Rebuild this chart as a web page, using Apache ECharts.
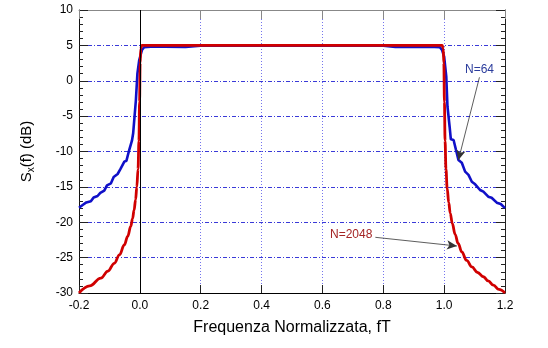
<!DOCTYPE html>
<html>
<head>
<meta charset="utf-8">
<script src="https://cdn.jsdelivr.net/npm/echarts@6/dist/echarts.min.js"></script>
<style>html,body{margin:0;padding:0;background:#fff}#c{width:548px;height:348px}</style>
</head>
<body>
<div id="c"></div>
<script>
// N=64 (blue) periodogram
var blueX = [-0.2, -0.188, -0.176, -0.161, -0.152, -0.139, -0.130, -0.117, -0.108, -0.095, -0.086, -0.073, -0.064, -0.051, -0.044, -0.035, -0.026, -0.022, -0.013, -0.008, -0.002, 0.007, 0.014, 0.036, 0.08, 0.15, 0.2, 0.5, 0.8, 0.84, 0.95, 0.986, 0.993, 1.0, 1.007, 1.011, 1.018, 1.022, 1.031, 1.039, 1.047, 1.058, 1.069, 1.080, 1.091, 1.102, 1.118, 1.129, 1.145, 1.156, 1.173, 1.186, 1.2];
var blueY = [-17.94, -17.56, -17.2, -17.04, -16.5, -16.29, -15.85, -15.53, -14.78, -14.5, -13.6, -13.18, -12.5, -11.44, -11.3, -9.79, -8.47, -7.43, -2.72, 1.05, 2.93, 4.35, 4.73, 4.81, 4.8, 4.78, 4.95, 4.95, 4.95, 4.78, 4.8, 4.73, 4.35, 3.4, 0.57, -3.67, -6.5, -8.28, -8.37, -9.79, -11.2, -11.58, -12.85, -13.3, -14.27, -14.64, -15.44, -15.68, -16.38, -16.53, -17.23, -17.42, -18.0];
// N=2048 (red) periodogram
var redX = [-0.2, -0.165, -0.128, -0.105, -0.084, -0.067, -0.051, -0.040, -0.030, -0.024, -0.019, -0.014, -0.010, -0.006, -0.003, -0.001, 0.001, 0.003, 0.006, 0.5, 0.994, 0.997, 0.999, 1.001, 1.003, 1.006, 1.010, 1.015, 1.020, 1.027, 1.036, 1.046, 1.058, 1.074, 1.091, 1.11, 1.129, 1.145, 1.162, 1.18, 1.2];
var redY = [-30.0, -29.0, -27.9, -26.9, -25.8, -24.6, -23.2, -22.0, -20.6, -19.5, -18.3, -16.8, -15.0, -12.5, -8.5, -3.0, 2.5, 4.5, 5.0, 5.0, 5.0, 4.5, 2.5, -3.0, -8.5, -12.5, -15.2, -17.2, -18.7, -20.2, -21.7, -23.0, -24.2, -25.4, -26.3, -27.1, -27.7, -28.3, -28.9, -29.5, -30.0];
var xTicks = [-0.2, 0.0, 0.2, 0.4, 0.6, 0.8, 1.0, 1.2];
var yTicks = [-30, -25, -20, -15, -10, -5, 0, 5, 10];

function pairs(xs, ys) { return xs.map(function (x, i) { return [x, ys[i]]; }); }

var FONT = 'Liberation Sans, Arial, sans-serif';
var chart = echarts.init(document.getElementById('c'), null, {renderer: 'canvas'});
chart.setOption({
  animation: false,
  backgroundColor: '#fff',
  grid: {left: 79, right: 43, top: 10, bottom: 55},
  xAxis: [{
    type: 'value', position: 'bottom', min: xTicks[0], max: xTicks[xTicks.length - 1], interval: 0.2,
    axisLine: {show: true, onZero: false, lineStyle: {color: '#000', width: 1}},
    axisTick: {inside: true, length: 8, lineStyle: {color: '#222'}},
    axisLabel: {color: '#000', fontSize: 12, fontFamily: FONT, margin: 7, formatter: function (v) { return v.toFixed(1); }},
    splitLine: {show: true, showMinLine: false, showMaxLine: false, lineStyle: {color: '#7474ee', type: [1, 2], width: 1}},
    name: 'Frequenza Normalizzata, fT', nameLocation: 'middle', nameGap: 27,
    nameTextStyle: {color: '#000', fontSize: 16, fontFamily: FONT}
  }, {
    type: 'value', position: 'top', min: xTicks[0], max: xTicks[xTicks.length - 1], interval: 0.2,
    axisLine: {show: true, onZero: false, lineStyle: {color: '#888', width: 1}},
    axisTick: {inside: true, length: 9, lineStyle: {color: '#888'}},
    axisLabel: {show: false}, splitLine: {show: false}
  }],
  yAxis: [{
    type: 'value', position: 'left', min: yTicks[0], max: yTicks[yTicks.length - 1], interval: 5,
    axisLine: {show: true, onZero: false, lineStyle: {color: '#111', width: 1}},
    axisTick: {inside: true, length: 9, lineStyle: {color: '#222'}},
    minorTick: {show: true, splitNumber: 5, length: 4, lineStyle: {color: '#222'}},
    axisLabel: {color: '#000', fontSize: 12, fontFamily: FONT, margin: 6},
    splitLine: {show: true, showMinLine: false, showMaxLine: false, lineStyle: {color: '#3a3ad8', type: [4, 2, 1, 2], width: 1}},
    name: '{a|S}{b|x}{a|(f) (dB)}', nameLocation: 'middle', nameGap: 43,
    nameTextStyle: {color: '#000', fontFamily: FONT, rich: {
      a: {fontSize: 15, fontFamily: FONT, color: '#000'},
      b: {fontSize: 10, fontFamily: FONT, color: '#000', padding: [9, 0, 0, 0]}
    }}
  }, {
    type: 'value', position: 'right', min: yTicks[0], max: yTicks[yTicks.length - 1], interval: 5,
    axisLine: {show: true, onZero: false, lineStyle: {color: '#222', width: 1}},
    axisTick: {inside: true, length: 9, lineStyle: {color: '#222'}},
    minorTick: {show: true, splitNumber: 5, length: 4, lineStyle: {color: '#222'}},
    axisLabel: {show: false}, splitLine: {show: false}
  }],
  series: [{
    name: 'N=64', type: 'line', xAxisIndex: 0, yAxisIndex: 0, data: pairs(blueX, blueY),
    showSymbol: false, symbol: 'none', z: 3,
    lineStyle: {color: '#1010c8', width: 2.6},
    markLine: {
      silent: true, animation: false, symbol: ['none', 'none'],
      label: {show: false},
      data: [
        [{coord: [0, -30], lineStyle: {color: '#000', width: 1, type: 'solid'}}, {coord: [0, 10]}]
      ]
    }
  }, {
    name: 'N=2048', type: 'line', xAxisIndex: 0, yAxisIndex: 0, data: pairs(redX, redY),
    showSymbol: false, symbol: 'none', z: 4, smooth: 0.4, smoothMonotone: 'x',
    lineStyle: {color: '#d00000', width: 2.8},
    markLine: {
      silent: true, animation: false, symbol: ['none', 'arrow'], symbolSize: [7, 10],
      label: {show: false},
      lineStyle: {color: '#333', width: 0.8, type: 'solid'},
      data: [
        [{coord: [1.116, 0.49]}, {coord: [1.047, -11.2]}],
        [{coord: [0.774, -22.13]}, {coord: [1.042, -23.36]}]
      ]
    }
  }],
  graphic: [
    {type: 'text', left: 465, top: 64, style: {text: 'N=64', fill: '#2b3c9c', font: '12px ' + FONT}},
    {type: 'text', left: 330, top: 229, style: {text: 'N=2048', fill: '#a42424', font: '12px ' + FONT}}
  ]
});
</script>
</body>
</html>
